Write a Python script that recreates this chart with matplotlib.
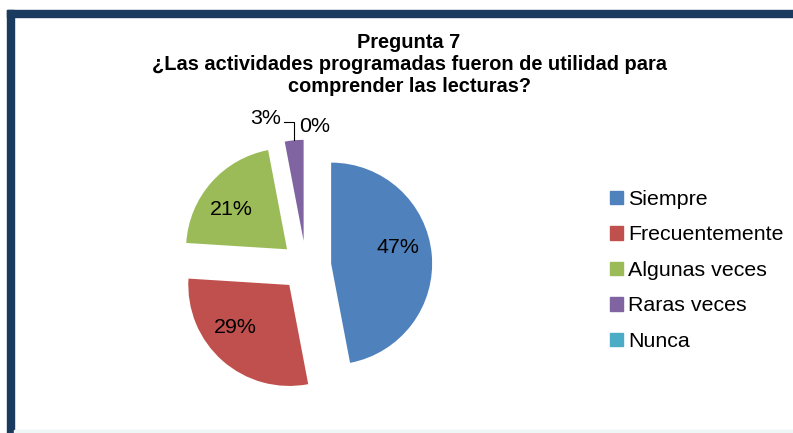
import numpy as np
import matplotlib.pyplot as plt
from matplotlib.patches import Patch, Rectangle

plt.rcParams['font.family'] = ['Liberation Sans', 'DejaVu Sans']

categorias = ["Siempre", "Frecuentemente", "Algunas veces", "Raras veces", "Nunca"]
porcentajes = [47, 29, 21, 3, 0]
colores = ["#4F81BD", "#C0504D", "#9BBB59", "#8064A2", "#4BACC6"]
titulo = "Pregunta 7\n¿Las actividades programadas fueron de utilidad para\ncomprender las lecturas?"

W, H = 793, 433
fig = plt.figure(figsize=(W / 100, H / 100), dpi=100)

# marco azul oscuro (arriba e izquierda)
azul = "#1B3A5F"
fig.patches.append(Rectangle((7 / W, 0), 7 / W, (H - 10) / H, transform=fig.transFigure,
                             color=azul, zorder=0))
fig.patches.append(Rectangle((7 / W, (H - 17) / H), 1, 7 / H, transform=fig.transFigure,
                             color=azul, zorder=0))
fig.patches.append(Rectangle((14 / W, 0), 1, 3 / H, transform=fig.transFigure,
                             color="#EEF6F6", zorder=0))

# ejes del pastel: 101 px por unidad
r_px = 101
cx, cy = 306, H - 266
ax = fig.add_axes([(cx - 250) / W, (cy - 160) / H, 500 / W, 320 / H])
wedges, _ = ax.pie(porcentajes, colors=colores, startangle=90, counterclock=False,
                   explode=[0.25] * len(porcentajes), radius=1)
ax.set_xlim(-250 / r_px, 250 / r_px)
ax.set_ylim(-160 / r_px, 160 / r_px)
ax.set_aspect('auto')
ax.axis('off')

# etiquetas dentro
giro = [8, -10, 6]
for w, p, g in zip(wedges[:3], porcentajes[:3], giro):
    ang = np.deg2rad((w.theta1 + w.theta2) / 2 + g)
    x = w.center[0] + 0.68 * np.cos(ang)
    y = w.center[1] + 0.68 * np.sin(ang)
    ax.text(x, y, f"{p}%", ha='center', va='center', fontsize=15.4)

# etiquetas fuera con linea guia
w = wedges[3]
ang = np.deg2rad((w.theta1 + w.theta2) / 2)
x0 = w.center[0] + np.cos(ang)
y0 = w.center[1] + np.sin(ang)
ax.plot([x0, x0, x0 - 0.1], [y0, y0 + 0.18, y0 + 0.18], color="black", lw=0.8)
ax.text(x0 - 0.28, y0 + 0.22, f"{porcentajes[3]}%", ha='center', va='center', fontsize=15.4)
ax.text(x0 + 0.2, y0 + 0.14, f"{porcentajes[4]}%", ha='center', va='center', fontsize=15.4)

fig.text(409 / W, 1 - 64 / H, titulo, ha='center', va='center', fontsize=14.4,
         fontweight='bold', linespacing=1.2)

handles = [Patch(color=c, label=l) for c, l in zip(colores, categorias)]
fig.legend(handles=handles, loc='upper left', bbox_to_anchor=(610 / W, 1 - 190 / H),
           frameon=False, fontsize=15.4, handlelength=0.6, handleheight=0.6,
           handletextpad=0.25, labelspacing=0.77, borderpad=0, borderaxespad=0)

fig.savefig("out.png", dpi=100)
